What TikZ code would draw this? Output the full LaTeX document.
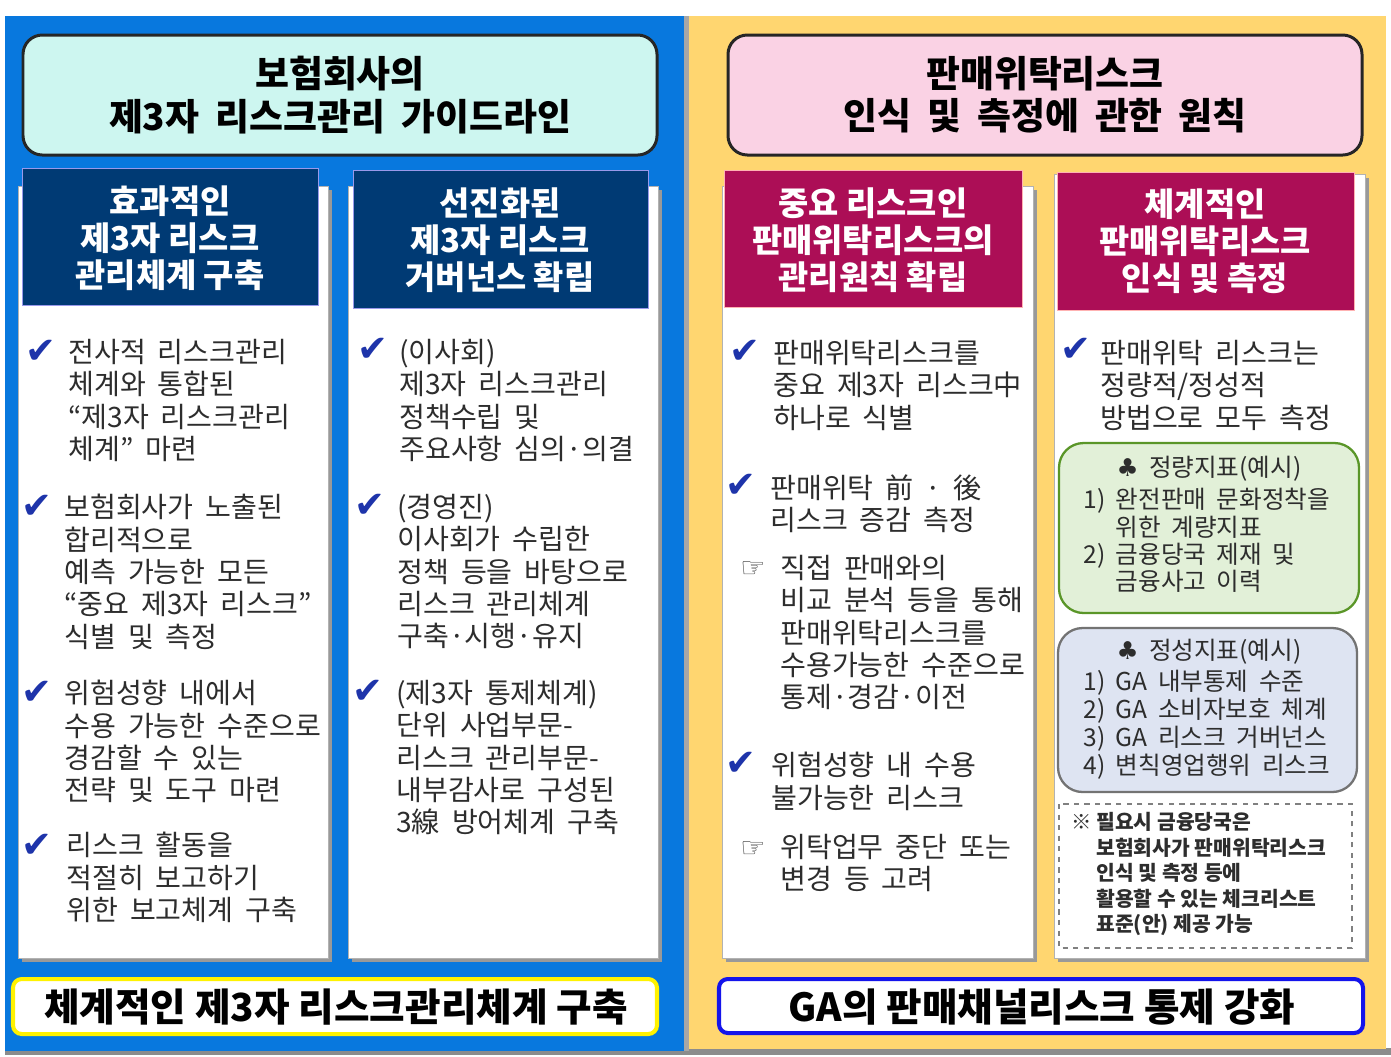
\documentclass[tikz,border=0pt]{standalone}
\usepackage{fontspec}
\setmainfont{Noto Sans CJK KR}
\newfontfamily\widefont{Noto Sans CJK KR}[WordSpace=1.9]
\newfontfamily\symfont{DejaVu Sans}

\definecolor{bgblue}{RGB}{8,120,222}
\definecolor{bgyellow}{RGB}{255,214,112}
\definecolor{titlecyan}{RGB}{205,246,240}
\definecolor{titlepink}{RGB}{250,210,228}
\definecolor{headnavy}{RGB}{0,58,116}
\definecolor{headred}{RGB}{172,14,86}
\definecolor{chkblue}{RGB}{30,52,170}
\definecolor{txtgray}{RGB}{45,45,45}
\definecolor{qtgreen}{RGB}{226,240,216}
\definecolor{qtgreenline}{RGB}{90,150,40}
\definecolor{qlgray}{RGB}{222,228,242}
\definecolor{linegold}{RGB}{255,242,0}
\definecolor{lineblue}{RGB}{20,20,235}

\begin{document}
\begin{tikzpicture}[x=0.02cm, y=-0.02cm,
        titlebox/.style={line width=1.7pt, draw=black!85, rounded corners=11pt},
        titletext/.style={align=center, font=\widefont\fontsize{21}{24}\selectfont\bfseries},
        headtext/.style={align=center, text=white, font=\fontsize{18.7}{21}\selectfont\bfseries},
        panel/.style={fill=white, draw=black!30, line width=0.5pt},
        shade/.style={fill=black!40},
        body/.style={anchor=north west, inner sep=0pt, align=left, text=txtgray,
            font=\widefont\fontsize{16}{18.4}\selectfont},
        small/.style={anchor=north west, inner sep=0pt, align=left, text=txtgray,
            font=\widefont\fontsize{14}{15.5}\selectfont},
        chk/.style={text=chkblue, font=\symfont\fontsize{21}{21}\selectfont},
        hand/.style={text=black!75, font=\symfont\fontsize{16}{16}\selectfont},
        bottomtext/.style={font=\fontsize{22}{24}\selectfont\bfseries}]

            \useasboundingbox (0,0) rectangle (1391,1056);

            %----- BACKGROUND -----
            \fill[white] (0,0) rectangle (1391,1056);
            \fill[black!45] (5,1048) rectangle (1391,1055);
            \fill[bgblue] (5,16) rectangle (684,1051);
            \fill[black!35] (684,16) rectangle (689,1051);
            \fill[bgyellow] (689,16) rectangle (1386,1049);

            %----- TITLE BOXES -----
            \draw[titlebox, fill=titlecyan] (23,35) rectangle (657,155);
            \node[titletext] (ltitle) at (340,95) {보험회사의\\제3자 리스크관리 가이드라인};
            \draw[titlebox, fill=titlepink] (728,35) rectangle (1362,155);
            \node[titletext] (rtitle) at (1045,95) {판매위탁리스크\\인식 및 측정에 관한 원칙};

            %----- PANELS -----
            \fill[shade] (22,190) rectangle (332,962);
            \draw[panel] (18,186) rectangle (328,958);
            \fill[shade] (352,190) rectangle (662,962);
            \draw[panel] (348,186) rectangle (658,958);
            \fill[shade] (726,190) rectangle (1037,962);
            \draw[panel] (722,186) rectangle (1033,958);
            \fill[shade] (1058,178) rectangle (1369,962);
            \draw[panel] (1054,174) rectangle (1365,958);

            %----- HEADERS -----
            \draw[fill=headnavy, draw=black!20!blue!40] (22,168) rectangle (318,305);
            \node[headtext] (h1) at (170,238) {효과적인\\제3자 리스크\\관리체계 구축};
            \draw[fill=headnavy, draw=black!20!blue!40] (353,170) rectangle (648,308);
            \node[headtext] (h2) at (500,240) {선진화된\\제3자 리스크\\거버넌스 확립};
            \draw[fill=headred, draw=red!30] (724,170) rectangle (1022,307);
            \node[headtext] (h3) at (873,240) {중요 리스크인\\판매위탁리스크의\\관리원칙 확립};
            \draw[fill=headred, draw=red!30] (1057,172) rectangle (1354,310);
            \node[headtext] (h4) at (1205,241) {체계적인\\판매위탁리스크\\인식 및 측정};

            %----- COLUMN 1 -----
            \node[chk] (c1a) at (41,352) {✔};
            \node[body] (t1a) at (68,339) {전사적 리스크관리\\체계와 통합된\\“제3자 리스크관리\\체계” 마련};
            \node[chk] (c1b) at (37,507) {✔};
            \node[body] (t1b) at (64,494) {보험회사가 노출된\\합리적으로\\예측 가능한 모든\\“중요 제3자 리스크”\\식별 및 측정};
            \node[chk] (c1c) at (37,693) {✔};
            \node[body] (t1c) at (64,680) {위험성향 내에서\\수용 가능한 수준으로\\경감할 수 있는\\전략 및 도구 마련};
            \node[chk] (c1d) at (37,846) {✔};
            \node[body] (t1d) at (66,832) {리스크 활동을\\적절히 보고하기\\위한 보고체계 구축};

            %----- COLUMN 2 -----
            \node[chk] (c2a) at (373,350) {✔};
            \node[body] (t2a) at (399,339) {(이사회)\\제3자 리스크관리\\정책수립 및\\주요사항 심의·의결};
            \node[chk] (c2b) at (370,506) {✔};
            \node[body] (t2b) at (397,494) {(경영진)\\이사회가 수립한\\정책 등을 바탕으로\\리스크 관리체계\\구축·시행·유지};
            \node[chk] (c2c) at (368,692) {✔};
            \node[body] (t2c) at (396,680) {(제3자 통제체계)\\단위 사업부문-\\리스크 관리부문-\\내부감사로 구성된\\3線 방어체계 구축};

            %----- COLUMN 3 -----
            \node[chk] (c3a) at (745,352) {✔};
            \node[body] (t3a) at (773,340) {판매위탁리스크를\\중요 제3자 리스크中\\하나로 식별};
            \node[chk] (c3b) at (741,486) {✔};
            \node[body] (t3b) at (770,474) {판매위탁 前 · 後\\리스크 증감 측정};
            \node[hand] (p3a) at (753,569) {☞};
            \node[body] (t3c) at (780,555) {직접 판매와의\\비교 분석 등을 통해\\판매위탁리스크를\\수용가능한 수준으로\\통제·경감·이전};
            \node[chk] (c3c) at (741,764) {✔};
            \node[body] (t3d) at (771,752) {위험성향 내 수용\\불가능한 리스크};
            \node[hand] (p3b) at (753,849) {☞};
            \node[body] (t3e) at (780,834) {위탁업무 중단 또는\\변경 등 고려};

            %----- COLUMN 4 -----
            \node[chk] (c4a) at (1076,350) {✔};
            \node[body] (t4a) at (1100,340) {판매위탁 리스크는\\정량적/정성적\\방법으로 모두 측정};

            % quantitative box
            \draw[fill=qtgreen, draw=qtgreenline, line width=1.3pt, rounded corners=14pt] (1059,443) rectangle (1359,613);
            \node[small, anchor=center] (q1) at (1209,469) {{\symfont ♣} 정량지표(예시)};
            \node[small] (q2) at (1083,488) {1) 완전판매 문화정착을\\\phantom{1)} 위한 계량지표\\2) 금융당국 제재 및\\\phantom{2)} 금융사고 이력};

            % qualitative box
            \draw[fill=qlgray, draw=black!55, line width=1.3pt, rounded corners=14pt] (1058,628) rectangle (1357,792);
            \node[small, anchor=center] (g1) at (1209,652) {{\symfont ♣} 정성지표(예시)};
            \node[small, font=\widefont\fontsize{14}{15.9}\selectfont] (g2) at (1083,670) {1) GA 내부통제 수준\\2) GA 소비자보호 체계\\3) GA 리스크 거버넌스\\4) 변칙영업행위 리스크};

            % note box
            \draw[draw=black!50, dashed, line width=0.6pt] (1059,804) rectangle (1352,948);
            \node[small, font=\fontsize{11.6}{14.5}\selectfont\bfseries] (n1) at (1071,812) {※ 필요시 금융당국은\\\phantom{※} 보험회사가 판매위탁리스크\\\phantom{※} 인식 및 측정 등에\\\phantom{※} 활용할 수 있는 체크리스트\\\phantom{※} 표준(안) 제공 가능};

            %----- BOTTOM BOXES -----
            \draw[fill=white, draw=linegold, line width=2.3pt, rounded corners=5pt] (13,979) rectangle (657,1034);
            \node[bottomtext] (b1) at (336,1007) {체계적인 제3자 리스크관리체계 구축};
            \draw[fill=white, draw=lineblue, line width=2.3pt, rounded corners=5pt] (719,979) rectangle (1363,1033);
            \node[bottomtext] (b2) at (1042,1007) {GA의 판매채널리스크 통제 강화};

        \end{tikzpicture}
\end{document}
